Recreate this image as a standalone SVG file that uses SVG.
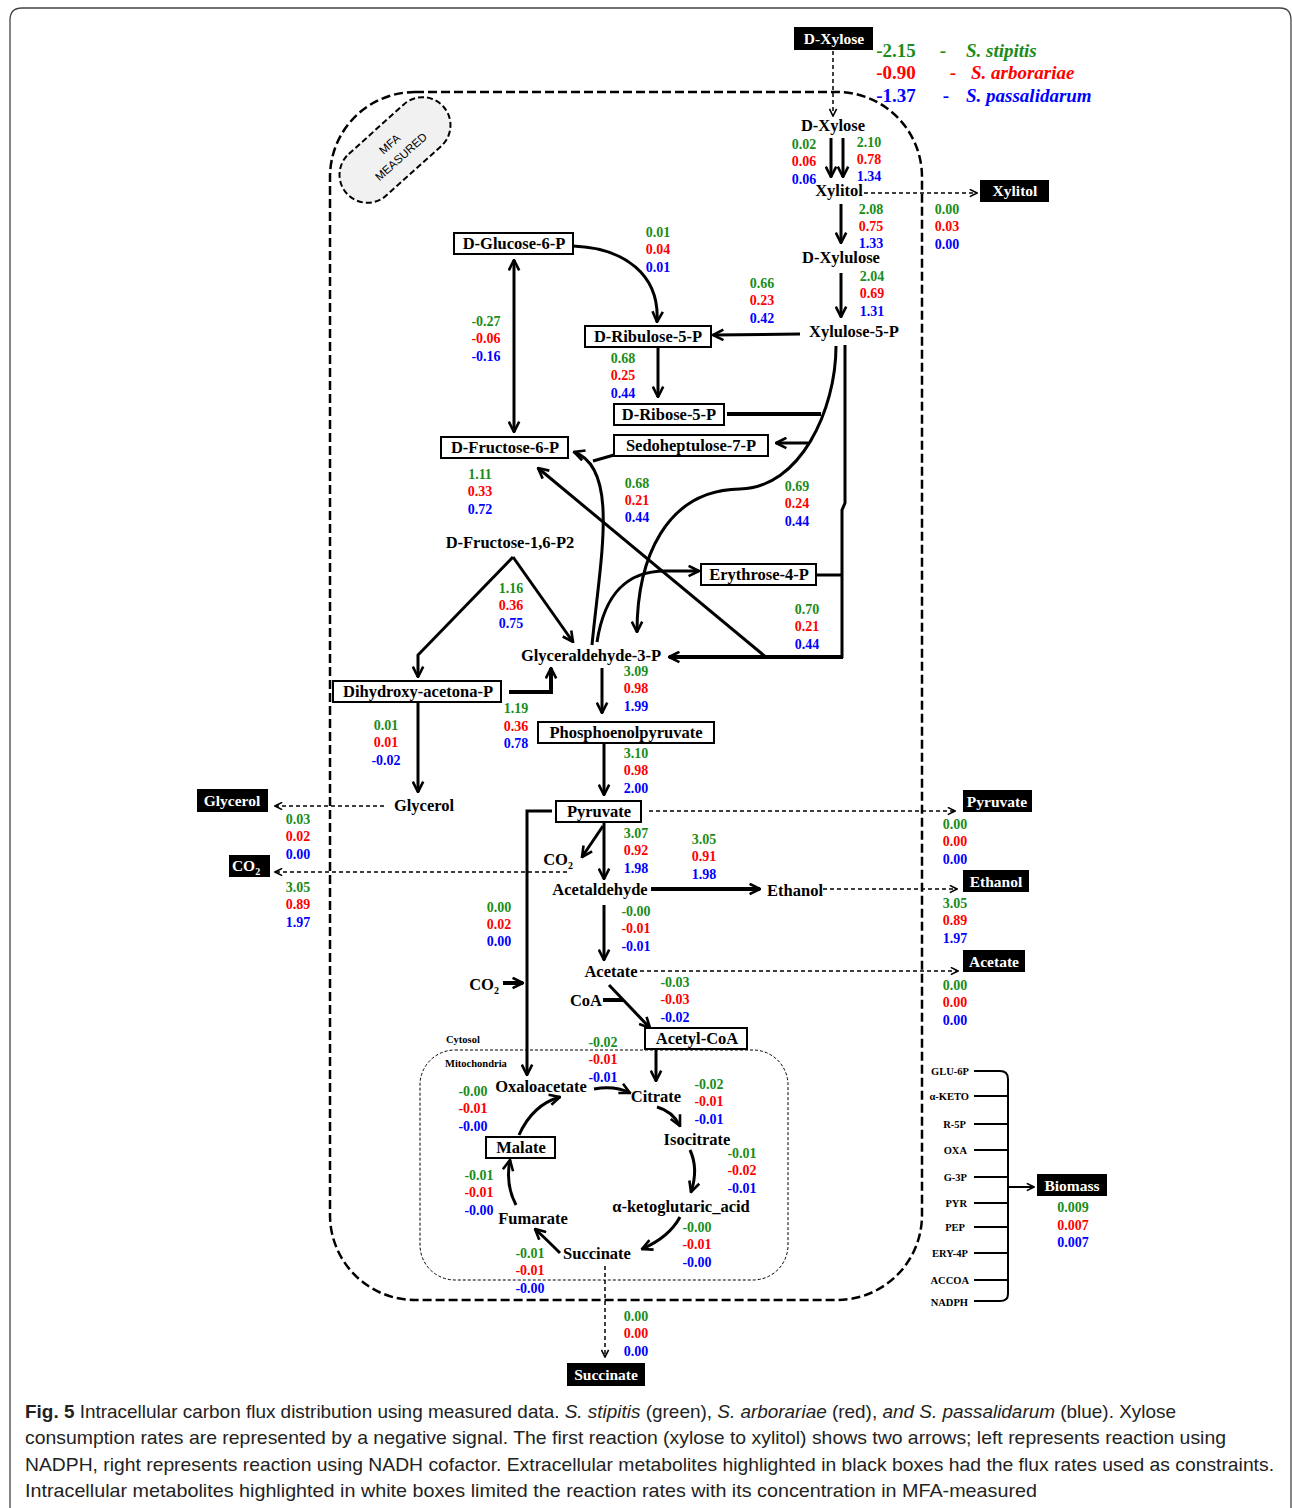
<svg xmlns="http://www.w3.org/2000/svg" width="1292" height="1508" viewBox="0 0 1292 1508">
<style>
.n{font-family:"Liberation Serif",serif;font-weight:bold;font-size:16.5px;fill:#000;text-anchor:middle}
.wt{font-family:"Liberation Serif",serif;font-weight:bold;font-size:15.5px;fill:#fff;text-anchor:middle}
.v{font-family:"Liberation Serif",serif;font-weight:bold;font-size:14px;text-anchor:middle}
.sm{font-family:"Liberation Serif",serif;font-weight:bold;font-size:10.5px;fill:#000}
.g{fill:#1a8c1a}.r{fill:#f00}.b{fill:#00f}
.box{fill:#fff;stroke:#000;stroke-width:2}
.bk{fill:#000}
.c{fill:none;stroke:#000;stroke-width:3}
.c4{fill:none;stroke:#000;stroke-width:4}
.d{fill:none;stroke:#000;stroke-width:1.5;stroke-dasharray:4 3}
.cap{font-family:"Liberation Sans",sans-serif;font-size:19px;fill:#222}
.leg{font-family:"Liberation Serif",serif;font-weight:bold;font-size:19px}
</style>
<defs>
<marker id="ah" viewBox="0 0 10 10" refX="9" refY="5" markerWidth="13" markerHeight="13" markerUnits="userSpaceOnUse" orient="auto-start-reverse"><path d="M1,1 L9,5 L1,9" fill="none" stroke="#000" stroke-width="2"/></marker>
<marker id="ad" viewBox="0 0 10 10" refX="9" refY="5" markerWidth="9" markerHeight="9" markerUnits="userSpaceOnUse" orient="auto"><path d="M1,1 L9,5 L1,9" fill="none" stroke="#000" stroke-width="1.8"/></marker>
</defs>
<rect width="1292" height="1508" fill="#fff"/>
<path d="M10,1508 V20 Q10,8 22,8 H1280 Q1291,8 1291,20 V1508" fill="none" stroke="#444" stroke-width="1.3"/>

<g id="compartments">
<rect x="330" y="92" width="592" height="1208" rx="85" fill="none" stroke="#000" stroke-width="2.5" stroke-dasharray="9 4"/>
<rect x="420" y="1050" width="368" height="230" rx="35" fill="none" stroke="#000" stroke-width="1" stroke-dasharray="3 2"/>
<text class="sm" x="446" y="1043" font-size="9.5">Cytosol</text>
<text class="sm" x="445" y="1067" font-size="9.5">Mitochondria</text>
</g>

<g id="badge" transform="rotate(-42 395 150)">
<rect x="330" y="122" width="130" height="56" rx="28" fill="#f1f1f1" stroke="#000" stroke-width="2" stroke-dasharray="6 3"/>
<text x="395" y="146" font-family="Liberation Sans,sans-serif" font-size="11.5" text-anchor="middle" fill="#000">MFA</text>
<text x="395" y="163" font-family="Liberation Sans,sans-serif" font-size="11.5" text-anchor="middle" fill="#000">MEASURED</text>
</g>

<g id="legend">
<text class="leg g" x="896" y="57" text-anchor="middle">-2.15</text><text class="leg g" x="943" y="57" text-anchor="middle">-</text><text class="leg g" x="966" y="57" font-style="italic" font-size="18">S. stipitis</text>
<text class="leg r" x="896" y="79" text-anchor="middle">-0.90</text><text class="leg r" x="953" y="79" text-anchor="middle">-</text><text class="leg r" x="971" y="79" font-style="italic" font-size="18">S. arborariae</text>
<text class="leg b" x="896" y="102" text-anchor="middle">-1.37</text><text class="leg b" x="946" y="102" text-anchor="middle">-</text><text class="leg b" x="966" y="102" font-style="italic" font-size="18">S. passalidarum</text>
</g>

<g id="connectors">
<path class="d" d="M833,51 V116" marker-end="url(#ad)"/>
<path class="c" d="M831,138 V177" marker-end="url(#ah)"/>
<path class="c" d="M843,138 V177" marker-end="url(#ah)"/>
<path class="d" d="M864,193 H977" marker-end="url(#ad)"/>
<path class="c" d="M841,204 V243" marker-end="url(#ah)"/>
<path class="c" d="M841,273 V317" marker-end="url(#ah)"/>
<path class="c" d="M800,334 L713,335" marker-end="url(#ah)"/>
<path class="c" d="M573,246 C625,248 660,275 657,322" marker-end="url(#ah)"/>
<path class="c" d="M514,260 V432" marker-start="url(#ah)" marker-end="url(#ah)"/>
<path class="c" d="M658,348 V397" marker-end="url(#ah)"/>
<path class="c4" d="M727,414 H821"/>
<path class="c" d="M836,346 C836,410 800,488 740,489 C665,490 637,560 637,632" marker-end="url(#ah)"/>
<path class="c" d="M808,443 H776" marker-end="url(#ah)"/>
<path class="c" d="M592,645 C600,560 620,468 574,452" marker-end="url(#ah)"/>
<path class="c" d="M614,455 L593,461"/>
<path class="c" d="M845,345 V503 L842,510 V658"/>
<path class="c4" d="M843,657 H669" marker-end="url(#ah)"/>
<path class="c" d="M816,575 H843"/>
<path class="c" d="M767,658 L538,468" marker-end="url(#ah)"/>
<path class="c" d="M597,642 C605,590 630,571 665,571 H699" marker-end="url(#ah)"/>
<path class="c" d="M513,557 L418,655 V677" marker-end="url(#ah)"/>
<path class="c" d="M513,557 L573,642" marker-end="url(#ah)"/>
<path class="c4" d="M509,692 H551 V668" marker-end="url(#ah)"/>
<path class="c" d="M602,668 V713" marker-end="url(#ah)"/>
<path class="c" d="M418,702 V792" marker-end="url(#ah)"/>
<path class="c" d="M604,744 V795" marker-end="url(#ah)"/>
<path class="d" d="M384,806 H275" marker-end="url(#ad)"/>
<path class="d" d="M649,811 H955" marker-end="url(#ad)"/>
<path class="c" d="M604,823 V879" marker-end="url(#ah)"/>
<path class="c" d="M603,826 L582,857" marker-end="url(#ah)"/>
<path class="d" d="M567,872 H275" marker-end="url(#ad)"/>
<path class="c" d="M552,811 H527 V1075" marker-end="url(#ah)"/>
<path class="c4" d="M503,983 H523" marker-end="url(#ah)"/>
<path class="c4" d="M651,889 H760" marker-end="url(#ah)"/>
<path class="d" d="M823,889 H957" marker-end="url(#ad)"/>
<path class="c" d="M604,905 V960" marker-end="url(#ah)"/>
<path class="d" d="M640,971 H958" marker-end="url(#ad)"/>
<path class="c" d="M609,985 L650,1028" marker-end="url(#ah)"/>
<path class="c4" d="M603,1000 H623"/>
<path class="c" d="M656,1050 V1081" marker-end="url(#ah)"/>
<path class="c" d="M594,1089 C610,1086 620,1088 630,1093" marker-end="url(#ah)"/>
<path class="c" d="M657,1107 C668,1110 676,1118 680,1126" marker-end="url(#ah)"/>
<path class="c" d="M690,1150 C697,1165 695,1180 691,1192" marker-end="url(#ah)"/>
<path class="c" d="M680,1217 C672,1232 658,1242 642,1249" marker-end="url(#ah)"/>
<path class="c" d="M560,1253 C552,1245 545,1238 535,1229" marker-end="url(#ah)"/>
<path class="c" d="M516,1205 C508,1190 507,1175 510,1160" marker-end="url(#ah)"/>
<path class="c" d="M519,1135 C528,1115 542,1102 560,1097" marker-end="url(#ah)"/>
<path class="d" d="M605,1266 V1357" marker-end="url(#ad)"/>
<g fill="none" stroke="#000" stroke-width="2">
<path d="M974,1071 H1000 Q1008,1071 1008,1079 V1294 Q1008,1301 1000,1301 H974"/>
<path d="M974,1096 H1008 M974,1124 H1008 M974,1150 H1008 M974,1177 H1008 M974,1203 H1008 M974,1227 H1008 M974,1253 H1008 M974,1280 H1008"/>
</g>
<path fill="none" stroke="#000" stroke-width="2" d="M1008,1187 H1034" marker-end="url(#ad)"/>
</g>

<g id="n-xylose-ext"><rect class="bk" x="794" y="27" width="79" height="23"/><text class="wt" x="834" y="44">D-Xylose</text></g>
<g id="n-xylitol-ext"><rect class="bk" x="980" y="180" width="69" height="22"/><text class="wt" x="1015" y="196">Xylitol</text></g>
<g id="n-glycerol-ext"><rect class="bk" x="197" y="789" width="71" height="23"/><text class="wt" x="232" y="806">Glycerol</text></g>
<g id="n-co2-ext"><rect class="bk" x="229" y="855" width="41" height="22"/><text class="wt" x="246" y="871">CO<tspan font-size="10" dy="4">2</tspan></text></g>
<g id="n-pyruvate-ext"><rect class="bk" x="963" y="790" width="69" height="22"/><text class="wt" x="997" y="807">Pyruvate</text></g>
<g id="n-ethanol-ext"><rect class="bk" x="963" y="870" width="66" height="22"/><text class="wt" x="996" y="887">Ethanol</text></g>
<g id="n-acetate-ext"><rect class="bk" x="963" y="950" width="62" height="22"/><text class="wt" x="994" y="967">Acetate</text></g>
<g id="n-biomass"><rect class="bk" x="1037" y="1174" width="70" height="22"/><text class="wt" x="1072" y="1191">Biomass</text></g>
<g id="n-succinate-ext"><rect class="bk" x="567" y="1363" width="78" height="23"/><text class="wt" x="606" y="1380">Succinate</text></g>

<g id="n-xylose"><text class="n" x="833" y="131">D-Xylose</text></g>
<g id="n-xylitol"><text class="n" x="839" y="196">Xylitol</text></g>
<g id="n-xylulose"><text class="n" x="841" y="263">D-Xylulose</text></g>
<g id="n-x5p"><text class="n" x="854" y="337">Xylulose-5-P</text></g>
<g id="n-g6p"><rect class="box" x="454" y="233" width="119" height="21"/><text class="n" x="514" y="249">D-Glucose-6-P</text></g>
<g id="n-ru5p"><rect class="box" x="585" y="326" width="126" height="21"/><text class="n" x="648" y="342">D-Ribulose-5-P</text></g>
<g id="n-r5p"><rect class="box" x="614" y="404" width="110" height="21"/><text class="n" x="669" y="420">D-Ribose-5-P</text></g>
<g id="n-f6p"><rect class="box" x="441" y="437" width="127" height="21"/><text class="n" x="505" y="453">D-Fructose-6-P</text></g>
<g id="n-s7p"><rect class="box" x="614" y="435" width="154" height="21"/><text class="n" x="691" y="451">Sedoheptulose-7-P</text></g>
<g id="n-e4p"><rect class="box" x="701" y="564" width="115" height="21"/><text class="n" x="759" y="580">Erythrose-4-P</text></g>
<g id="n-f16p2"><text class="n" x="510" y="548">D-Fructose-1,6-P2</text></g>
<g id="n-g3p"><text class="n" x="591" y="661">Glyceraldehyde-3-P</text></g>
<g id="n-dhap"><rect class="box" x="333" y="681" width="168" height="21"/><text class="n" x="418" y="697">Dihydroxy-acetona-P</text></g>
<g id="n-pep"><rect class="box" x="538" y="722" width="176" height="21"/><text class="n" x="626" y="738">Phosphoenolpyruvate</text></g>
<g id="n-glycerol"><text class="n" x="424" y="811">Glycerol</text></g>
<g id="n-pyruvate"><rect class="box" x="556" y="801" width="85" height="21"/><text class="n" x="599" y="817">Pyruvate</text></g>
<g id="n-co2a"><text class="n" x="558" y="865">CO<tspan font-size="10" dy="4">2</tspan></text></g>
<g id="n-acetaldehyde"><text class="n" x="600" y="895">Acetaldehyde</text></g>
<g id="n-ethanol"><text class="n" x="795" y="896">Ethanol</text></g>
<g id="n-acetate"><text class="n" x="611" y="977">Acetate</text></g>
<g id="n-coa"><text class="n" x="586" y="1006">CoA</text></g>
<g id="n-co2b"><text class="n" x="484" y="990">CO<tspan font-size="10" dy="4">2</tspan></text></g>
<g id="n-accoa"><rect class="box" x="645" y="1028" width="102" height="21"/><text class="n" x="697" y="1044">Acetyl-CoA</text></g>
<g id="n-oaa"><text class="n" x="541" y="1092">Oxaloacetate</text></g>
<g id="n-citrate"><text class="n" x="656" y="1102">Citrate</text></g>
<g id="n-isocitrate"><text class="n" x="697" y="1145">Isocitrate</text></g>
<g id="n-akg"><text class="n" x="681" y="1212">α-ketoglutaric_acid</text></g>
<g id="n-malate"><rect class="box" x="486" y="1137" width="69" height="21"/><text class="n" x="521" y="1153">Malate</text></g>
<g id="n-fumarate"><text class="n" x="533" y="1224">Fumarate</text></g>
<g id="n-succinate"><text class="n" x="597" y="1259">Succinate</text></g>

<g id="biomass-labels" class="sm" text-anchor="end">
<text x="969" y="1075">GLU-6P</text>
<text x="969" y="1100">α-KETO</text>
<text x="966" y="1128">R-5P</text>
<text x="967" y="1154">OXA</text>
<text x="967" y="1181">G-3P</text>
<text x="967" y="1207">PYR</text>
<text x="965" y="1231">PEP</text>
<text x="968" y="1257">ERY-4P</text>
<text x="969" y="1284">ACCOA</text>
<text x="968" y="1306">NADPH</text>
</g>

<g id="flux-values">
<text class="v g" x="804" y="149">0.02</text><text class="v r" x="804" y="166">0.06</text><text class="v b" x="804" y="184">0.06</text>
<text class="v g" x="869" y="147">2.10</text><text class="v r" x="869" y="164">0.78</text><text class="v b" x="869" y="181">1.34</text>
<text class="v g" x="871" y="214">2.08</text><text class="v r" x="871" y="231">0.75</text><text class="v b" x="871" y="248">1.33</text>
<text class="v g" x="947" y="214">0.00</text><text class="v r" x="947" y="231">0.03</text><text class="v b" x="947" y="249">0.00</text>
<text class="v g" x="872" y="281">2.04</text><text class="v r" x="872" y="298">0.69</text><text class="v b" x="872" y="316">1.31</text>
<text class="v g" x="762" y="288">0.66</text><text class="v r" x="762" y="305">0.23</text><text class="v b" x="762" y="323">0.42</text>
<text class="v g" x="658" y="237">0.01</text><text class="v r" x="658" y="254">0.04</text><text class="v b" x="658" y="272">0.01</text>
<text class="v g" x="486" y="326">-0.27</text><text class="v r" x="486" y="343">-0.06</text><text class="v b" x="486" y="361">-0.16</text>
<text class="v g" x="623" y="363">0.68</text><text class="v r" x="623" y="380">0.25</text><text class="v b" x="623" y="398">0.44</text>
<text class="v g" x="480" y="479">1.11</text><text class="v r" x="480" y="496">0.33</text><text class="v b" x="480" y="514">0.72</text>
<text class="v g" x="637" y="488">0.68</text><text class="v r" x="637" y="505">0.21</text><text class="v b" x="637" y="522">0.44</text>
<text class="v g" x="797" y="491">0.69</text><text class="v r" x="797" y="508">0.24</text><text class="v b" x="797" y="526">0.44</text>
<text class="v g" x="511" y="593">1.16</text><text class="v r" x="511" y="610">0.36</text><text class="v b" x="511" y="628">0.75</text>
<text class="v g" x="807" y="614">0.70</text><text class="v r" x="807" y="631">0.21</text><text class="v b" x="807" y="649">0.44</text>
<text class="v g" x="636" y="676">3.09</text><text class="v r" x="636" y="693">0.98</text><text class="v b" x="636" y="711">1.99</text>
<text class="v g" x="516" y="713">1.19</text><text class="v r" x="516" y="731">0.36</text><text class="v b" x="516" y="748">0.78</text>
<text class="v g" x="386" y="730">0.01</text><text class="v r" x="386" y="747">0.01</text><text class="v b" x="386" y="765">-0.02</text>
<text class="v g" x="636" y="758">3.10</text><text class="v r" x="636" y="775">0.98</text><text class="v b" x="636" y="793">2.00</text>
<text class="v g" x="298" y="824">0.03</text><text class="v r" x="298" y="841">0.02</text><text class="v b" x="298" y="859">0.00</text>
<text class="v g" x="298" y="892">3.05</text><text class="v r" x="298" y="909">0.89</text><text class="v b" x="298" y="927">1.97</text>
<text class="v g" x="636" y="838">3.07</text><text class="v r" x="636" y="855">0.92</text><text class="v b" x="636" y="873">1.98</text>
<text class="v g" x="704" y="844">3.05</text><text class="v r" x="704" y="861">0.91</text><text class="v b" x="704" y="879">1.98</text>
<text class="v g" x="955" y="829">0.00</text><text class="v r" x="955" y="846">0.00</text><text class="v b" x="955" y="864">0.00</text>
<text class="v g" x="955" y="908">3.05</text><text class="v r" x="955" y="925">0.89</text><text class="v b" x="955" y="943">1.97</text>
<text class="v g" x="955" y="990">0.00</text><text class="v r" x="955" y="1007">0.00</text><text class="v b" x="955" y="1025">0.00</text>
<text class="v g" x="499" y="912">0.00</text><text class="v r" x="499" y="929">0.02</text><text class="v b" x="499" y="946">0.00</text>
<text class="v g" x="636" y="916">-0.00</text><text class="v r" x="636" y="933">-0.01</text><text class="v b" x="636" y="951">-0.01</text>
<text class="v g" x="675" y="987">-0.03</text><text class="v r" x="675" y="1004">-0.03</text><text class="v b" x="675" y="1022">-0.02</text>
<text class="v g" x="603" y="1047">-0.02</text><text class="v r" x="603" y="1064">-0.01</text><text class="v b" x="603" y="1082">-0.01</text>
<text class="v g" x="709" y="1089">-0.02</text><text class="v r" x="709" y="1106">-0.01</text><text class="v b" x="709" y="1124">-0.01</text>
<text class="v g" x="473" y="1096">-0.00</text><text class="v r" x="473" y="1113">-0.01</text><text class="v b" x="473" y="1131">-0.00</text>
<text class="v g" x="742" y="1158">-0.01</text><text class="v r" x="742" y="1175">-0.02</text><text class="v b" x="742" y="1193">-0.01</text>
<text class="v g" x="479" y="1180">-0.01</text><text class="v r" x="479" y="1197">-0.01</text><text class="v b" x="479" y="1215">-0.00</text>
<text class="v g" x="697" y="1232">-0.00</text><text class="v r" x="697" y="1249">-0.01</text><text class="v b" x="697" y="1267">-0.00</text>
<text class="v g" x="530" y="1258">-0.01</text><text class="v r" x="530" y="1275">-0.01</text><text class="v b" x="530" y="1293">-0.00</text>
<text class="v g" x="636" y="1321">0.00</text><text class="v r" x="636" y="1338">0.00</text><text class="v b" x="636" y="1356">0.00</text>
<text class="v g" x="1073" y="1212">0.009</text><text class="v r" x="1073" y="1230">0.007</text><text class="v b" x="1073" y="1247">0.007</text>
</g>

<g id="caption">
<text class="cap" x="25" y="1418" textLength="1151" lengthAdjust="spacingAndGlyphs"><tspan font-weight="bold">Fig. 5</tspan> Intracellular carbon flux distribution using measured data. <tspan font-style="italic">S. stipitis</tspan> (green), <tspan font-style="italic">S. arborariae</tspan> (red), <tspan font-style="italic">and S. passalidarum</tspan> (blue). Xylose</text>
<text class="cap" x="25" y="1444" textLength="1201" lengthAdjust="spacingAndGlyphs">consumption rates are represented by a negative signal. The first reaction (xylose to xylitol) shows two arrows; left represents reaction using</text>
<text class="cap" x="25" y="1471" textLength="1249" lengthAdjust="spacingAndGlyphs">NADPH, right represents reaction using NADH cofactor. Extracellular metabolites highlighted in black boxes had the flux rates used as constraints.</text>
<text class="cap" x="25" y="1497" textLength="1012" lengthAdjust="spacingAndGlyphs">Intracellular metabolites highlighted in white boxes limited the reaction rates with its concentration in MFA-measured</text>
</g>
</svg>
